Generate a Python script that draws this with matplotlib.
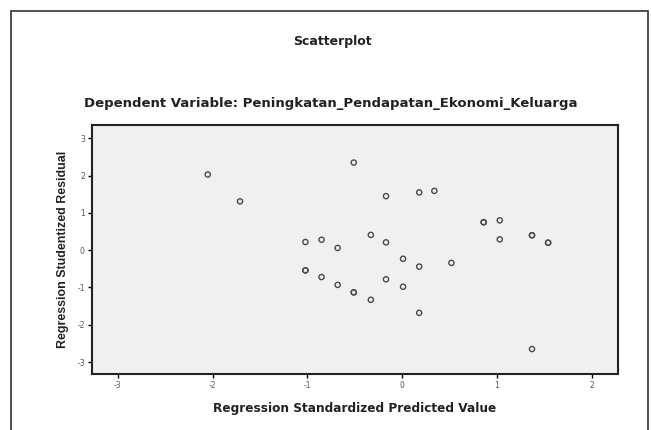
import numpy as np
import matplotlib
matplotlib.use('Agg')
import matplotlib.pyplot as plt
from matplotlib.patches import Rectangle

plt.rcParams['font.family'] = ['DejaVu Sans']
plt.rcParams['axes.unicode_minus'] = False

# Regression standardized predicted value vs studentized residual
pred = [-2.05, -1.71, -0.51, -1.02, -0.85, -0.68, -1.02, -0.85, -0.68, -0.51,
        -0.17, 0.18, 0.34, 0.86, 1.03, 1.03, 1.37, 1.54, -0.33, -0.17,
        0.01, 0.18, 0.52, -0.17, 0.01, -0.33, 0.18, 1.37,
        -1.02, -0.51, 0.86, 1.37, 1.54]
resid = [2.03, 1.31, 2.35, 0.22, 0.28, 0.06, -0.54, -0.72, -0.93, -1.13,
         1.45, 1.55, 1.59, 0.75, 0.80, 0.29, 0.40, 0.20, 0.41, 0.21,
         -0.23, -0.44, -0.34, -0.78, -0.98, -1.33, -1.68, -2.65,
         -0.54, -1.13, 0.75, 0.40, 0.20]

xticks = [-3, -2, -1, 0, 1, 2]
yticks = [-3, -2, -1, 0, 1, 2, 3]

fig = plt.figure(figsize=(6.51, 4.30), dpi=100)

# outer chart frame
fig.patches.append(Rectangle((11 / 651, -0.05), 637 / 651, 1 - 11 / 430 + 0.05,
                             transform=fig.transFigure, fill=False,
                             edgecolor='#333333', linewidth=1.2))

ax = fig.add_axes([0.1409, 0.1302, 0.8084, 0.5791])
ax.set_facecolor('#f0f0f0')
ax.scatter(pred, resid, s=14, facecolors='none', edgecolors='#4a4a4a', linewidths=1.0, zorder=3)

ax.set_xlim(-3.274, 2.277)
ax.set_ylim(-3.32, 3.357)
ax.set_xticks(xticks)
ax.set_yticks(yticks)
ax.tick_params(direction='out', length=3, width=1, labelsize=5.5, colors='black',
               labelcolor='#555555', pad=2)
for sp in ax.spines.values():
    sp.set_linewidth(1.5)
    sp.set_color('#222222')

ax.set_xlabel('Regression Standardized Predicted Value', fontsize=8.7,
              fontweight='bold', color='#222222', labelpad=9)
ax.set_ylabel('Regression Studentized Residual', fontsize=8.9, family='Liberation Sans',
              fontweight='bold', color='#222222', labelpad=6)

fig.text(332 / 651, 1 - 41 / 430, 'Scatterplot', ha='center', va='center',
         fontsize=9, fontweight='bold', color='#222222')
fig.text(331 / 651, 1 - 104 / 430, 'Dependent Variable: Peningkatan_Pendapatan_Ekonomi_Keluarga',
         ha='center', va='center', fontsize=9.5, fontweight='bold', color='#222222')

fig.savefig('out.png', dpi=100)
